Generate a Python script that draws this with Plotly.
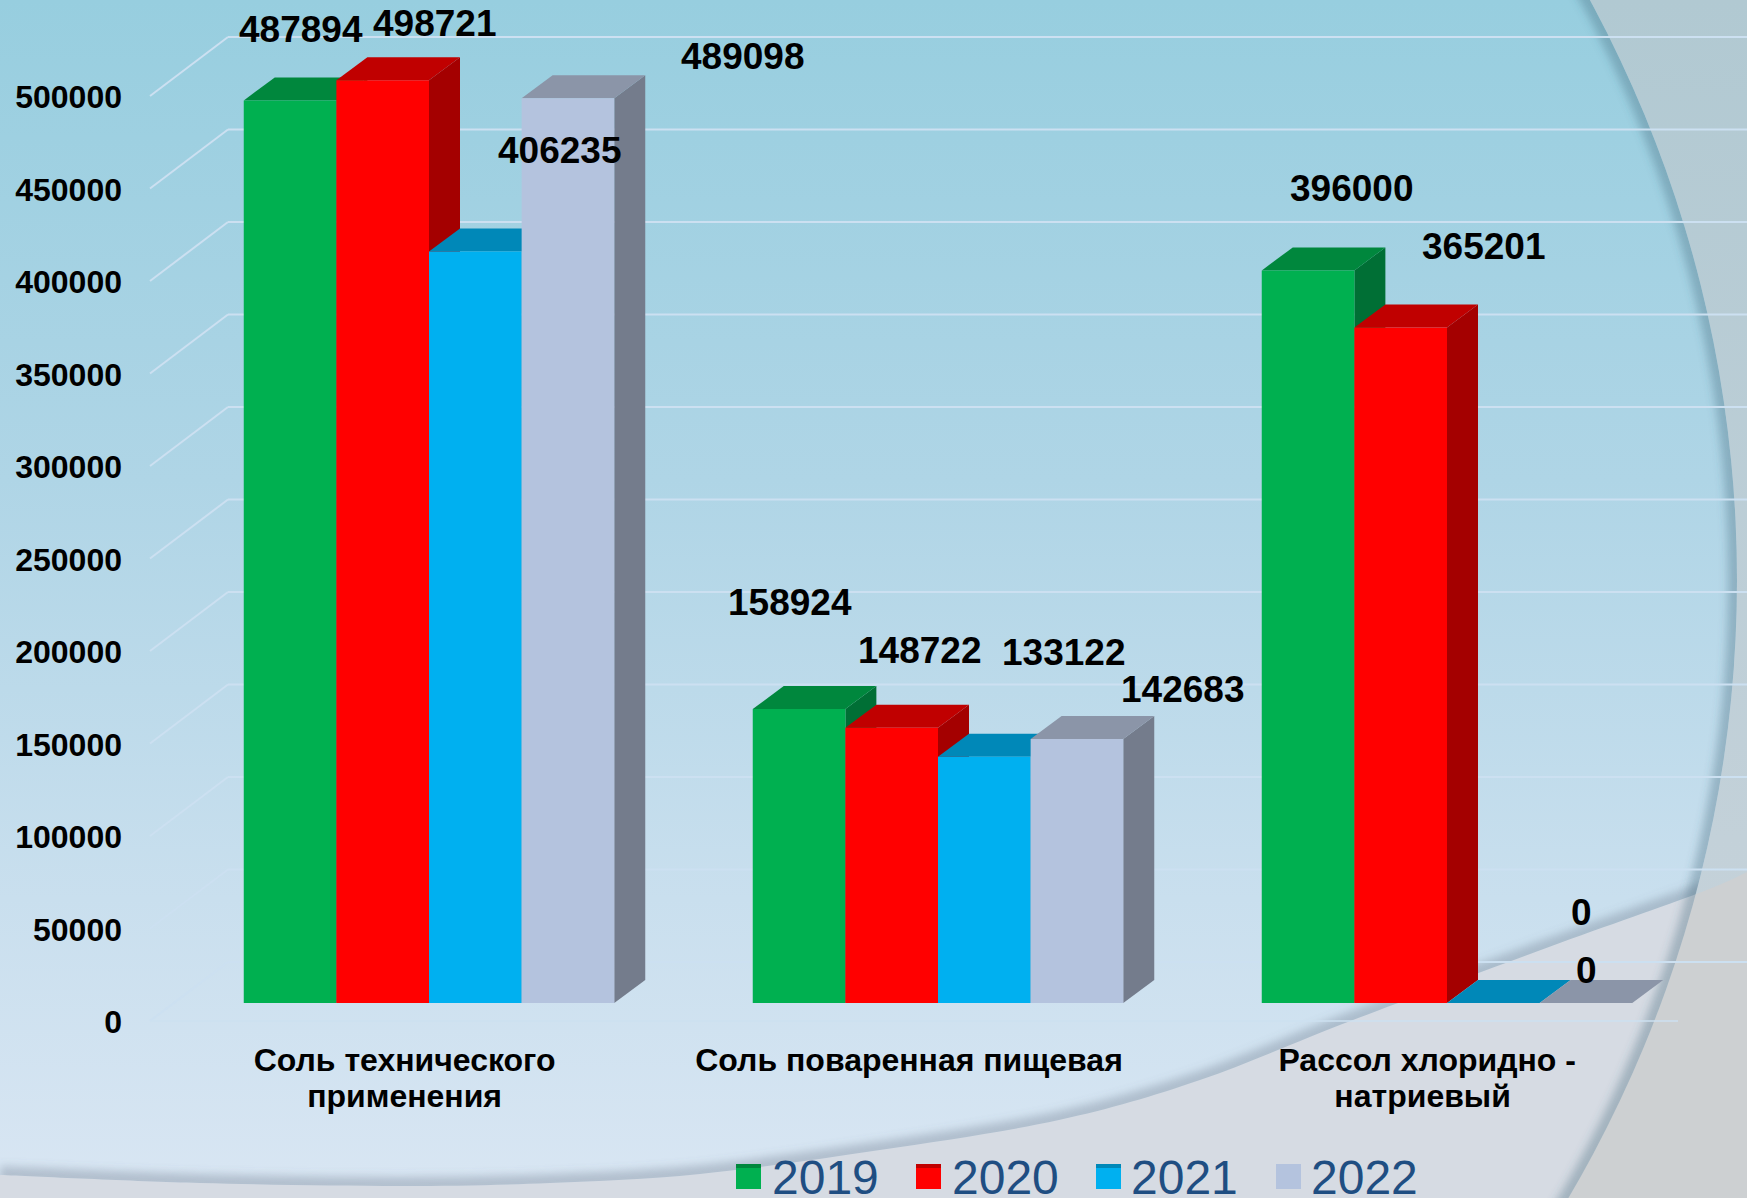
import base64
import plotly.graph_objects as go

# ---------- data ----------
categories = ["Соль технического применения", "Соль поваренная пищевая", "Рассол хлоридно - натриевый"]
label_line1 = ["Соль технического", "Соль поваренная пищевая", "Рассол хлоридно -"]
label_line2 = ["применения", "", "натриевый"]
years = ["2019", "2020", "2021", "2022"]
v2019 = [487894, 158924, 396000]
v2020 = [498721, 148722, 365201]
v2021 = [406235, 133122, 0]
v2022 = [489098, 142683, 0]
series_values = [v2019, v2020, v2021, v2022]
y_ticks = [0, 50000, 100000, 150000, 200000, 250000, 300000, 350000, 400000, 450000, 500000]

front_colors = ["#00b050", "#ff0000", "#00b0f0", "#b4c3de"]
top_colors = ["#00873d", "#c00000", "#0088b8", "#8b95a8"]
side_colors = ["#006f35", "#a40000", "#006f98", "#747c8c"]

# label centres in pixels [series][category]
label_px = [
    [(301, 29), (790, 602), (1351, 188)],
    [(434, 23), (919, 650), (1483, 246)],
    [(559, 151), (1063, 652), (1581, 912)],
    [(742, 56), (1182, 689), (1586, 970)],
]
legend_marker_x = [736, 916, 1096, 1276]
legend_text_x = [770, 950, 1129, 1309]

# ---------- geometry ----------
W, H = 1747, 1198
BASE_Y = 1003.0
PX_PER_UNIT = 925.0 / 500000
GROUP0_X = 429.0
GROUP_STEP = 509.0
GROUP_W = 370.5
DX, DY = 31.0, 23.0
AXIS0_Y = 1021.0   # front floor edge
BACK0_Y = 962.0    # back wall floor


def xd(px):
    return (px - GROUP0_X) / GROUP_STEP


def yd(py):
    return (BASE_Y - py) / PX_PER_UNIT


dx_u = DX / GROUP_STEP
dy_u = DY / PX_PER_UNIT
bar_w = GROUP_W / 4 / GROUP_STEP


def catmull(pts):
    d = f"M{pts[0][0]},{pts[0][1]}"
    for i in range(len(pts) - 1):
        p0 = pts[max(i - 1, 0)]
        p1 = pts[i]
        p2 = pts[i + 1]
        p3 = pts[min(i + 2, len(pts) - 1)]
        c1 = (p1[0] + (p2[0] - p0[0]) / 6, p1[1] + (p2[1] - p0[1]) / 6)
        c2 = (p2[0] - (p3[0] - p1[0]) / 6, p2[1] - (p3[1] - p1[1]) / 6)
        d += f" C{c1[0]:.1f},{c1[1]:.1f} {c2[0]:.1f},{c2[1]:.1f} {p2[0]},{p2[1]}"
    return d


arc_pts = [(0, 1175), (200, 1183), (400, 1186), (550, 1183), (700, 1174), (880, 1150), (1059, 1120),
           (1200, 1080), (1353, 1020), (1549, 947), (1699, 893), (1747, 872)]
arc = catmull(arc_pts)
svg = f"""<svg xmlns="http://www.w3.org/2000/svg" width="{W}" height="{H}" viewBox="0 0 {W} {H}">
<defs>
<linearGradient id="b" x1="0" y1="0" x2="0" y2="1"><stop offset="0" stop-color="#97cedf"/><stop offset=".4" stop-color="#afd5e6"/><stop offset=".75" stop-color="#c9dfee"/><stop offset="1" stop-color="#d9e6f3"/></linearGradient>
<linearGradient id="r" x1="0" y1="0" x2="0" y2="1"><stop offset="0" stop-color="#b1c9d2"/><stop offset=".7" stop-color="#c3d1d9"/><stop offset="1" stop-color="#c8d3da"/></linearGradient>
<clipPath id="c"><circle cx="520" cy="580" r="1217"/></clipPath>
<clipPath id="a"><path d="{arc} L{W},0 L0,0 Z"/></clipPath>
<filter id="f" filterUnits="userSpaceOnUse" x="-50" y="-50" width="{W + 100}" height="{H + 100}"><feGaussianBlur stdDeviation="4"/></filter>
</defs>
<rect width="{W}" height="{H}" fill="url(#r)"/>
<path d="{arc} L{W},{H} L0,{H} Z" fill="#cdd0d2"/>
<g clip-path="url(#c)">
<rect width="{W}" height="{H}" fill="#d6dbe3"/>
<g clip-path="url(#a)"><rect width="{W}" height="{H}" fill="url(#b)"/>
<path d="{arc}" fill="none" stroke="#60707f" stroke-opacity=".32" stroke-width="18" filter="url(#f)"/></g>
<circle cx="520" cy="580" r="1217" fill="none" stroke="#3f6475" stroke-opacity=".34" stroke-width="18" filter="url(#f)"/>
</g>
</svg>"""
bg_uri = "data:image/svg+xml;base64," + base64.b64encode(svg.encode()).decode()

fig = go.Figure()

# front faces
for s, (yr, vals) in enumerate(zip(years, series_values)):
    fig.add_trace(go.Bar(name=yr, x=list(range(len(categories))), y=vals, width=bar_w,
                         offset=(s - 2) * bar_w, marker=dict(color=front_colors[s], line=dict(width=0)),
                         hovertext=categories, showlegend=False))

# invisible carriers for the label axes
for xa, ya in [("x", "y2"), ("x2", "y"), ("x3", "y")]:
    fig.add_trace(go.Scatter(x=[0, 1, 2], y=[0, 0, 0], xaxis=xa, yaxis=ya, mode="none",
                             showlegend=False, hoverinfo="skip"))

shapes = []
GRID = "rgb(204,224,241)"
LEFT_FRONT, LEFT_BACK = 150.0, 228.0
for t in y_ticks:
    fy = yd(AXIS0_Y) + t
    by = yd(BACK0_Y) + t
    shapes.append(dict(type="line", xref="x", yref="y", x0=xd(LEFT_FRONT), y0=fy, x1=xd(LEFT_BACK), y1=by,
                       line=dict(color=GRID, width=2), layer="below"))
    shapes.append(dict(type="line", xref="x", yref="y", x0=xd(LEFT_BACK), y0=by, x1=xd(W), y1=by,
                       line=dict(color=GRID, width=2), layer="below"))
shapes.append(dict(type="line", xref="x", yref="y", x0=xd(LEFT_FRONT), y0=yd(AXIS0_Y), x1=xd(1678), y1=yd(AXIS0_Y),
                   line=dict(color=GRID, width=1.5), layer="below"))

# side and top faces: painted left to right, the bars' fronts cover what must be hidden
for c in range(len(categories)):
    for s, vals in enumerate(series_values):
        v = vals[c]
        x0 = c + (s - 2) * bar_w
        x1 = x0 + bar_w
        side = f"M{x1},0 L{x1 + dx_u},{dy_u} L{x1 + dx_u},{v + dy_u} L{x1},{v} Z"
        top = f"M{x0},{v} L{x0 + dx_u},{v + dy_u} L{x1 + dx_u},{v + dy_u} L{x1},{v} Z"
        if v > 0:
            shapes.append(dict(type="path", xref="x", yref="y", path=side, fillcolor=side_colors[s],
                               line=dict(width=0), layer="below"))
        shapes.append(dict(type="path", xref="x", yref="y", path=top, fillcolor=top_colors[s],
                           line=dict(width=0), layer="below"))

annotations = []
for s, vals in enumerate(series_values):
    for c, v in enumerate(vals):
        px, py = label_px[s][c]
        annotations.append(dict(text=str(v), xref="paper", yref="paper", x=px / W, y=1 - py / H,
                                xanchor="center", yanchor="middle", showarrow=False,
                                font=dict(family="Liberation Sans", size=37, color="#000000", weight="bold")))

# legend
for s, yr in enumerate(years):
    mx = legend_marker_x[s]
    shapes.append(dict(type="rect", xref="paper", yref="paper", x0=mx / W, x1=(mx + 25) / W,
                       y0=1 - 1189 / H, y1=1 - 1164 / H, fillcolor=front_colors[s], line=dict(width=0), layer="above"))
    shapes.append(dict(type="rect", xref="paper", yref="paper", x0=mx / W, x1=(mx + 25) / W,
                       y0=1 - 1168 / H, y1=1 - 1164 / H, fillcolor=top_colors[s] if s < 3 else front_colors[s],
                       line=dict(width=0), layer="above"))
    annotations.append(dict(text=yr, xref="paper", yref="paper", x=legend_text_x[s] / W, y=1 - 1177.5 / H,
                            xanchor="left", yanchor="middle", showarrow=False,
                            font=dict(family="Liberation Sans", size=48, color="#1f4e82")))

LABEL_X0 = 404.6
x2_range = [(0 - LABEL_X0) / GROUP_STEP, (W - LABEL_X0) / GROUP_STEP]

cat_font = dict(family="Liberation Sans", size=32, color="#000000", weight="bold")
fig.update_layout(
    width=W, height=H, margin=dict(l=0, r=0, t=0, b=0),
    paper_bgcolor="#d6dbe3", plot_bgcolor="rgba(0,0,0,0)",
    barmode="overlay", showlegend=False,
    images=[dict(source=bg_uri, xref="paper", yref="paper", x=0, y=1, sizex=1, sizey=1,
                 xanchor="left", yanchor="top", sizing="stretch", layer="below")],
    shapes=shapes, annotations=annotations,
    xaxis=dict(range=[xd(0), xd(W)], visible=False, fixedrange=True),
    yaxis=dict(range=[yd(H), yd(0)], visible=False, fixedrange=True),
    yaxis2=dict(overlaying="y", anchor="free", position=122 / W, side="left",
                range=[(AXIS0_Y + 1.2 - H) / PX_PER_UNIT, (AXIS0_Y + 1.2) / PX_PER_UNIT],
                tickvals=y_ticks, ticktext=[str(t) for t in y_ticks], showgrid=False, zeroline=False,
                showline=False, ticks="", tickfont=dict(family="Liberation Sans", size=32, color="#000000", weight="bold")),
    xaxis2=dict(overlaying="x", anchor="free", position=1 - 1038 / H, side="bottom", range=x2_range,
                tickvals=[0, 0.991, 2.009], ticktext=label_line1, showgrid=False, zeroline=False, showline=False,
                ticks="", tickangle=0, tickfont=cat_font),
    xaxis3=dict(overlaying="x", anchor="free", position=1 - 1074 / H, side="bottom", range=x2_range,
                tickvals=[0, 1, 2], ticktext=label_line2, showgrid=False, zeroline=False, showline=False,
                ticks="", tickangle=0, tickfont=cat_font),
)

fig.write_html("out.html", config=dict(displayModeBar=False),
               post_script="document.body.style.margin='0';document.body.style.overflow='hidden';")
